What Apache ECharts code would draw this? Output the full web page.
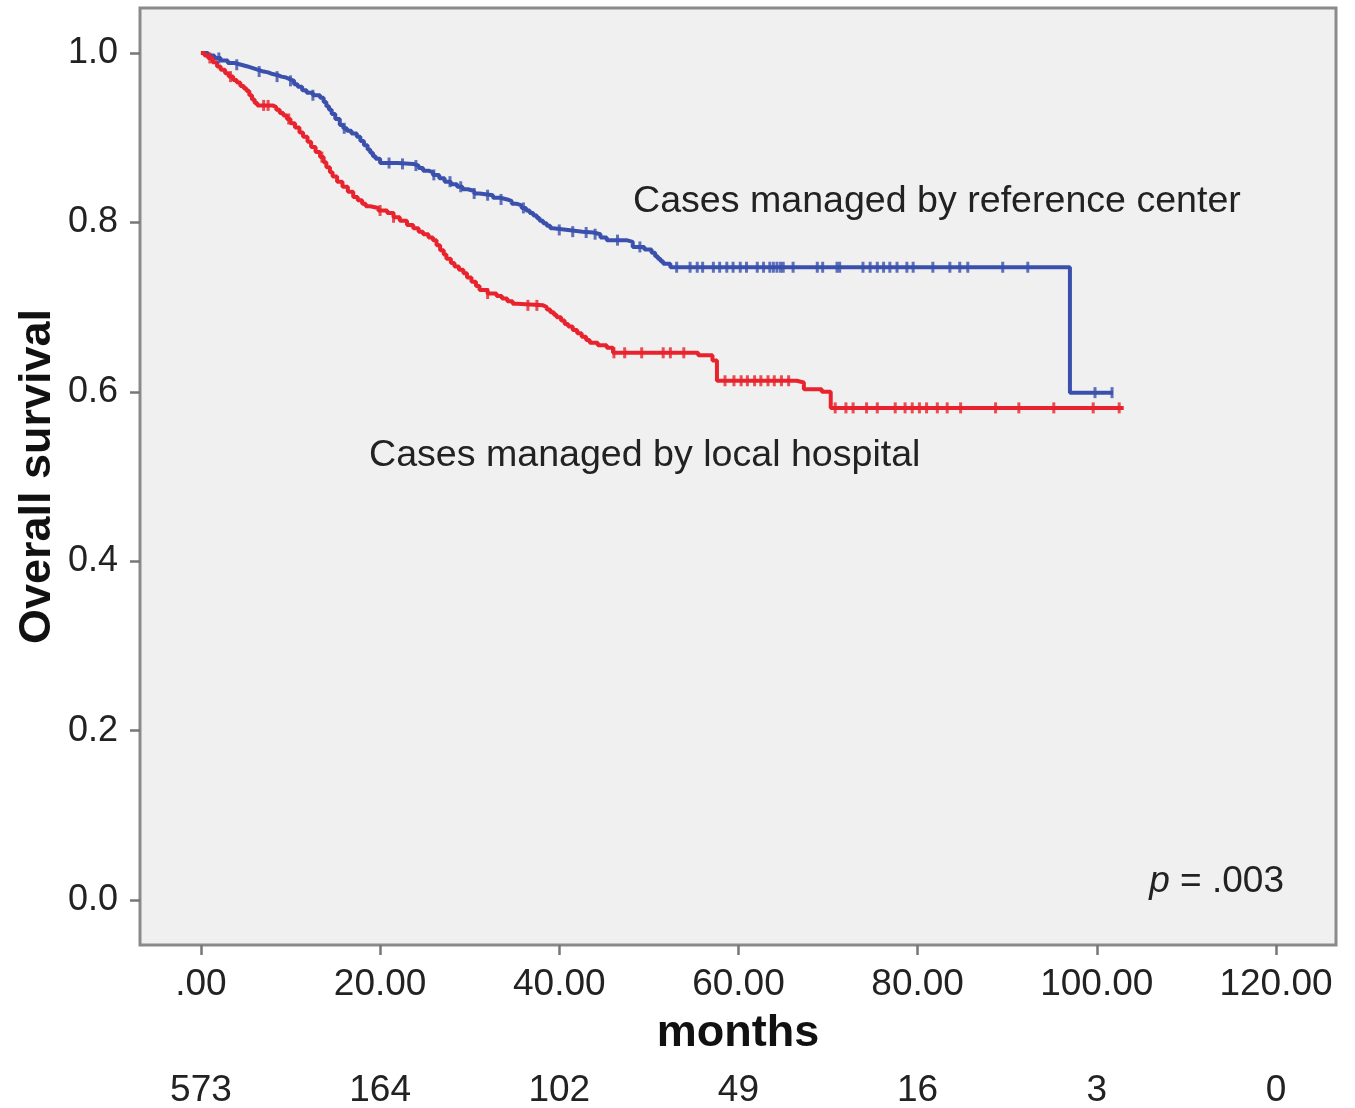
<!DOCTYPE html>
<html>
<head>
<meta charset="utf-8">
<script src="https://cdn.jsdelivr.net/npm/echarts@6/dist/echarts.min.js"></script>
<style>
html,body{margin:0;padding:0;background:#fff;}
#chart{width:1355px;height:1108px;}
</style>
</head>
<body>
<div id="chart"></div>
<script>
// ---- data ----
const xTicks = [0, 20, 40, 60, 80, 100, 120];
const xTickLabels = ['.00', '20.00', '40.00', '60.00', '80.00', '100.00', '120.00'];
const atRisk = ['573', '164', '102', '49', '16', '3', '0'];
const yTicks = [0, 0.2, 0.4, 0.6, 0.8, 1.0];
const yTickLabels = ['0.0', '0.2', '0.4', '0.6', '0.8', '1.0'];

// Kaplan-Meier steps: [month, survival after the event]
const refCenter = [[0,1.0],[0.8,0.997],[1.5,0.994],[2.2,0.991],[3,0.988],[3.8,0.986],[4.5,0.984],[5.2,0.982],[5.8,0.980],[6.4,0.978],[7,0.977],[7.5,0.975],[8,0.974],[8.5,0.972],[9,0.971],[9.5,0.969],[9.9,0.967],[10.4,0.963],[10.8,0.960],[11.3,0.956],[11.8,0.953],[12.5,0.950],[13.3,0.947],[13.7,0.942],[14,0.937],[14.3,0.933],[14.6,0.928],[15,0.922],[15.5,0.915],[15.9,0.911],[16.3,0.908],[16.8,0.905],[17.4,0.901],[17.8,0.896],[18.2,0.891],[18.6,0.886],[18.9,0.882],[19.2,0.878],[19.5,0.875],[20,0.870],[22,0.869],[23.7,0.867],[24.3,0.864],[24.8,0.861],[25.4,0.859],[25.9,0.856],[26.6,0.852],[27.2,0.848],[27.9,0.845],[28.6,0.842],[29.2,0.839],[29.8,0.837],[30.5,0.834],[31.1,0.832],[32.6,0.829],[33.4,0.827],[34.2,0.825],[34.7,0.822],[35.2,0.820],[35.8,0.817],[36.3,0.814],[36.7,0.811],[37.1,0.808],[37.5,0.805],[37.8,0.802],[38.2,0.799],[38.6,0.796],[39,0.793],[39.3,0.791],[41,0.789],[42.6,0.788],[43.8,0.786],[44.6,0.782],[45.3,0.779],[47.5,0.777],[48.2,0.771],[49.5,0.768],[50.3,0.764],[50.7,0.760],[51,0.757],[51.3,0.754],[51.6,0.751],[52.4,0.747],[97,0.599],[101.8,0.599]];
const localHosp = [[0,1.0],[0.4,0.997],[0.8,0.994],[1.3,0.989],[1.8,0.984],[2.2,0.980],[2.7,0.976],[3.1,0.972],[3.6,0.968],[4,0.965],[4.4,0.961],[4.8,0.958],[5.1,0.955],[5.4,0.950],[5.7,0.945],[6,0.941],[6.3,0.938],[8,0.936],[8.4,0.933],[8.8,0.929],[9.2,0.926],[9.6,0.922],[10,0.917],[10.5,0.912],[11,0.906],[11.4,0.901],[11.9,0.895],[12.3,0.889],[12.8,0.883],[13.3,0.877],[13.7,0.871],[14,0.865],[14.4,0.859],[14.7,0.854],[15.2,0.848],[15.8,0.842],[16.4,0.836],[17,0.830],[17.5,0.826],[18,0.822],[18.4,0.819],[18.9,0.817],[19.8,0.814],[20.8,0.811],[21.5,0.806],[22.2,0.802],[23,0.797],[23.7,0.793],[24.3,0.789],[24.8,0.786],[25.4,0.782],[25.9,0.779],[26.3,0.773],[26.7,0.767],[27.1,0.762],[27.4,0.757],[27.9,0.752],[28.3,0.748],[28.8,0.744],[29.3,0.740],[29.7,0.735],[30.2,0.730],[30.7,0.725],[31.1,0.720],[32,0.716],[33,0.713],[33.6,0.710],[34.2,0.707],[34.8,0.704],[35.3,0.702],[38.2,0.700],[38.6,0.697],[39,0.694],[39.4,0.691],[39.7,0.688],[40.2,0.684],[40.6,0.680],[41,0.677],[41.5,0.673],[42,0.669],[42.5,0.665],[43,0.661],[43.4,0.658],[44.3,0.655],[45.3,0.652],[46,0.646],[55.5,0.643],[57.1,0.637],[57.6,0.613],[66.5,0.611],[67.3,0.603],[69.3,0.600],[70.3,0.581],[103,0.581]];

// censored times (tick marks)
const refCensor = [2,4,6.5,8.5,10,12.5,16,21,22.5,24,26,27.8,29,30.5,32,33.5,36,40,41.5,43,44,46.5,49,53.1,54.6,55.4,56,57.2,57.9,58.7,59.4,60.2,60.9,62.1,62.8,63.5,63.9,64.3,64.7,65.0,66.1,68.8,69.4,71.0,71.3,73.9,74.7,75.5,76.2,76.9,77.7,78.8,79.5,81.7,83.6,84.7,85.6,89.5,92.3,99.8,101.7];
const localCensor = [1,3.3,7,7.5,9.8,13.5,20,21.5,32,36.5,37.5,46.1,47.3,49.2,51.6,52.4,53.9,58.5,59.5,60.3,61,61.8,62.5,63.3,64,64.8,65.6,70.8,72.0,72.8,74.3,75.5,77.5,78.6,79.4,80.2,81.0,82.2,83.3,84.8,88.7,91.3,95.2,99.6,102.5];

// ---- helpers ----
function survAt(curve, t) {
  let s = curve[0][1];
  for (const p of curve) { if (p[0] <= t) s = p[1]; else break; }
  return s;
}
const blue = '#3a50ac';
const red = '#e8232d';
const font = '"Liberation Sans", Arial, sans-serif';

const chart = echarts.init(document.getElementById('chart'), null, {renderer: 'canvas'});
chart.setOption({
  animation: false,
  backgroundColor: '#ffffff',
  grid: {
    left: 140, right: 19, top: 8, bottom: 163,
    show: true, backgroundColor: '#f0f0f0', borderColor: '#8a8a8a', borderWidth: 3,
    outerBoundsMode: 'none'
  },
  xAxis: [{
    type: 'value', min: -6.8, max: 126.7,
    splitLine: {show: false},
    axisLine: {show: false, onZero: false},
    axisTick: {show: true, customValues: xTicks, length: 10, lineStyle: {color: '#777', width: 2.5}},
    axisLabel: {customValues: xTicks, margin: 21, fontSize: 37, color: '#222', fontFamily: font,
      formatter: v => xTickLabels[xTicks.indexOf(v)]},
    name: 'months', nameLocation: 'middle', nameGap: 66, nameMoveOverlap: false,
    nameTextStyle: {fontSize: 45, fontWeight: 'bold', color: '#111', fontFamily: font}
  }, {
    type: 'value', min: -6.8, max: 126.7, position: 'bottom',
    splitLine: {show: false}, axisLine: {show: false, onZero: false}, axisTick: {show: false},
    axisLabel: {customValues: xTicks, margin: 127, fontSize: 37, color: '#222', fontFamily: font,
      formatter: v => atRisk[xTicks.indexOf(v)]}
  }],
  yAxis: {
    type: 'value', min: -0.053, max: 1.053,
    splitLine: {show: false},
    axisLine: {show: false, onZero: false},
    axisTick: {show: true, customValues: yTicks, length: 10, lineStyle: {color: '#777', width: 2.5}},
    axisLabel: {customValues: yTicks, margin: 22, fontSize: 36, color: '#222', fontFamily: font,
      formatter: v => yTickLabels[yTicks.indexOf(Math.round(v * 10) / 10)]},
    name: 'Overall survival', nameLocation: 'middle', nameGap: 80, nameRotate: 90, nameMoveOverlap: false,
    nameTextStyle: {fontSize: 45, fontWeight: 'bold', color: '#111', fontFamily: font}
  },
  series: [
    {type: 'line', step: 'end', data: refCenter, showSymbol: false, lineStyle: {color: blue, width: 4}, z: 3},
    {type: 'line', step: 'end', data: localHosp, showSymbol: false, lineStyle: {color: red, width: 4}, z: 4},
    {type: 'scatter', data: refCensor.map(t => [t, survAt(refCenter, t)]), symbol: 'rect', symbolSize: [3, 11],
      itemStyle: {color: blue}, z: 5},
    {type: 'scatter', data: localCensor.map(t => [t, survAt(localHosp, t)]), symbol: 'rect', symbolSize: [3, 11],
      itemStyle: {color: red}, z: 6}
  ],
  graphic: [
    {type: 'text', left: 633, top: 183, style: {text: 'Cases managed by reference center', fontSize: 37.6, fill: '#222', fontFamily: font}},
    {type: 'text', left: 369, top: 437, style: {text: 'Cases managed by local hospital', fontSize: 37.6, fill: '#222', fontFamily: font}},
    {type: 'text', right: 71, top: 863, style: {
      text: '{i|p} = .003', fontSize: 37, fill: '#222', fontFamily: font,
      rich: {i: {fontStyle: 'italic', fontSize: 37, fill: '#222', fontFamily: font}}
    }}
  ]
});
</script>
</body>
</html>
